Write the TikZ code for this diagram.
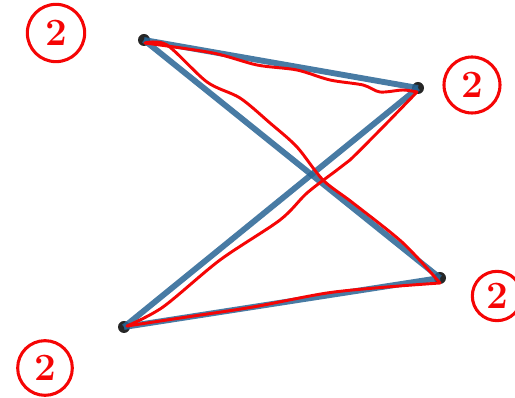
\documentclass[tikz,border=0pt]{standalone}
\usetikzlibrary{calc}
\definecolor{edgeblue}{RGB}{40,100,148}
\definecolor{penred}{RGB}{245,5,5}
\begin{document}
\begin{tikzpicture}[x=0.75pt,y=-0.75pt,
  vtx/.style={circle,fill=black!85,inner sep=0pt,minimum size=9pt},
  blueedge/.style={draw=edgeblue,line width=4.4pt,opacity=0.85},
  rededge/.style={draw=penred,line width=2.2pt,line cap=round,line join=round},
  lbl/.style={circle,draw=penred,line width=2.3pt,text=penred,inner sep=0pt,
    font=\fontsize{29}{29}\selectfont\bfseries}]
\useasboundingbox (0,0) rectangle (515,398);
\node[vtx] (A) at (144,40) {};
\node[vtx] (B) at (418,88) {};
\node[vtx] (C) at (440,278) {};
\node[vtx] (D) at (124,327) {};
\draw[blueedge] (A.center) -- (B.center);
\draw[blueedge] (A.center) -- (C.center);
\draw[blueedge] (D.center) -- (B.center);
\draw[blueedge] (D.center) -- (C.center);
\draw[rededge] plot[smooth,tension=0.5] coordinates {(145,43) (213,53) (257,65) (297,70) (330,80) (363,85) (380,92) (403,90) (417,92)};
\draw[rededge] plot[smooth,tension=0.5] coordinates {(145,43) (167,45) (207,82) (240,98) (270,123) (297,147) (323,180) (353,203) (403,243) (440,283)};
\draw[rededge] plot[smooth,tension=0.5] coordinates {(127,326) (163,307) (220,260) (280,220) (307,193) (337,170) (350,160) (383,127) (417,92)};
\draw[rededge] plot[smooth,tension=0.5] coordinates {(127,326) (187,317) (253,307) (327,293) (387,287) (440,283)};
\node[lbl,minimum size=43pt] (L1) at (56,33) {2};
\node[lbl,minimum size=42pt] (L2) at (472,85) {2};
\node[lbl,minimum size=37pt] (L3) at (497,296) {2};
\node[lbl,minimum size=41pt] (L4) at (45,368) {2};
\end{tikzpicture}
\end{document}
